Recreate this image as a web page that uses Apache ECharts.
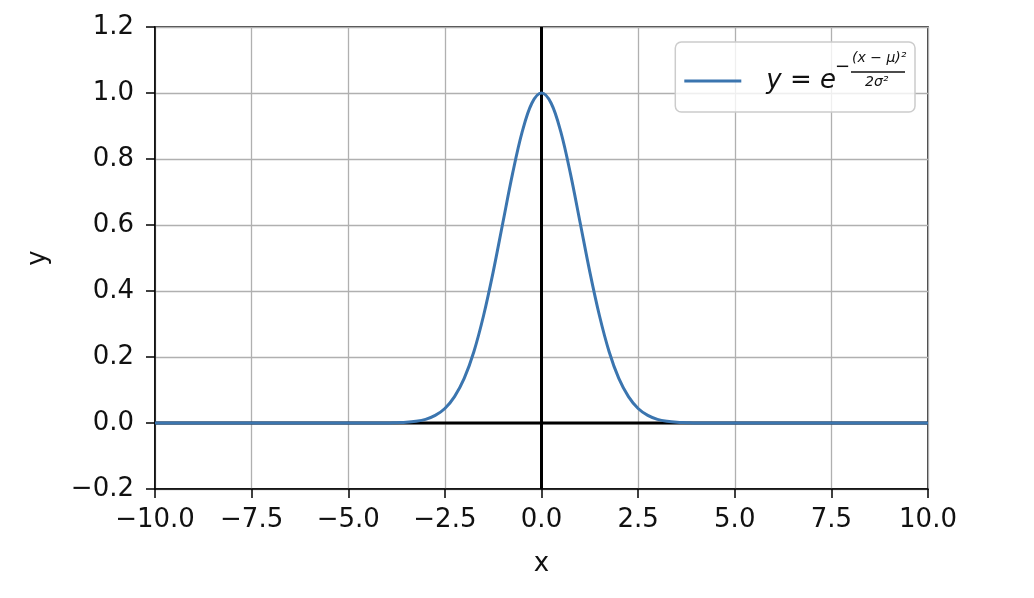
<!DOCTYPE html>
<html>
<head>
<meta charset="utf-8">
<script src="https://cdn.jsdelivr.net/npm/echarts@6/dist/echarts.min.js"></script>
<style>
  html, body { margin: 0; padding: 0; background: #fff; }
  #chart { width: 1034px; height: 598px; }
</style>
</head>
<body>
<div id="chart"></div>
<script>
// points
const xValues = [-10, -7.5, -5, -4.5, -4, -3.75, -3.5, -3.25, -3, -2.75, -2.5, -2.25, -2, -1.75, -1.5, -1.25, -1, -0.75, -0.5, -0.25,
  0, 0.25, 0.5, 0.75, 1, 1.25, 1.5, 1.75, 2, 2.25, 2.5, 2.75, 3, 3.25, 3.5, 3.75, 4, 4.5, 5, 7.5, 10];
const yValues = [0, 0, 0, 0, 0, 0.001, 0.002, 0.005, 0.011, 0.023, 0.044, 0.08, 0.135, 0.216, 0.325, 0.458, 0.607, 0.755, 0.882, 0.969,
  1.0, 0.969, 0.882, 0.755, 0.607, 0.458, 0.325, 0.216, 0.135, 0.08, 0.044, 0.023, 0.011, 0.005, 0.002, 0.001, 0, 0, 0, 0, 0];
const seriesName = "gauss";
// the black zero lines (x = 0 and y = 0)
const hLine = [[-10, 0], [10, 0]];
const vLine = [[0, -0.2], [0, 1.2]];

const fmt = v => v.toFixed(1).replace("-", "\u2212");
const font = "DejaVu Sans";

const chart = echarts.init(document.getElementById("chart"));

const zeroLine = (name, data) => ({
  name: name, type: "line", data: data, z: 1, silent: true,
  showSymbol: false, symbol: "none",
  lineStyle: { color: "#000", width: 3 },
  itemStyle: { color: "#000" }
});

const option = {
  animation: false,
  textStyle: { fontFamily: font },
  grid: {
    left: 155, right: 106, top: 27, bottom: 109,
    show: true, borderColor: "#000", borderWidth: 1.5
  },
  xAxis: {
    type: "value", min: -10, max: 10, interval: 2.5,
    name: "x", nameLocation: "middle", nameGap: 62,
    nameTextStyle: { fontSize: 26, color: "#111", fontFamily: font },
    axisLine: { show: true, onZero: false, lineStyle: { color: "#000", width: 1.5 } },
    axisTick: { show: true, inside: false, length: 9, lineStyle: { color: "#000", width: 1.5 } },
    axisLabel: { fontSize: 26, color: "#111", margin: 18, formatter: fmt, fontFamily: font },
    splitLine: { show: true, lineStyle: { color: "#b0b0b0", width: 1.3 } }
  },
  yAxis: {
    type: "value", min: -0.2, max: 1.2, interval: 0.2,
    name: "y", nameLocation: "middle", nameGap: 104, nameRotate: 90,
    nameTextStyle: { fontSize: 26, color: "#111", fontFamily: font },
    axisLine: { show: true, onZero: false, lineStyle: { color: "#000", width: 1.5 } },
    axisTick: { show: true, inside: false, length: 9, lineStyle: { color: "#000", width: 1.5 } },
    axisLabel: { fontSize: 26, color: "#111", margin: 21, formatter: fmt, fontFamily: font },
    splitLine: { show: true, lineStyle: { color: "#b0b0b0", width: 1.3 } }
  },
  legend: {
    data: [seriesName],
    right: 119, top: 42,
    padding: [26, 79, 18, 9],
    backgroundColor: "rgba(255,255,255,0.8)",
    borderColor: "#cccccc", borderWidth: 1.5, borderRadius: 6,
    icon: "rect", itemWidth: 57, itemHeight: 3,
    formatter: () => "{first|y}{rm| = }{it|e}",
    textStyle: {
      rich: {
        first: { fontSize: 26, fontStyle: "italic", fontFamily: font, color: "#111", lineHeight: 26, padding: [0, 0, 0, 20] },
        it: { fontSize: 26, fontStyle: "italic", fontFamily: font, color: "#111", lineHeight: 26 },
        rm: { fontSize: 26, fontFamily: font, color: "#111", lineHeight: 26 }
      }
    }
  },
  graphic: [
    { type: "text", z: 100, left: 835, top: 58,
      style: { text: "\u2212", fontSize: 18, fontFamily: font, fill: "#111" } },
    { type: "text", z: 100, left: 852, top: 51,
      style: { text: "(x \u2212 \u03bc)\u00b2", fontSize: 14, fontStyle: "italic", fontFamily: font, fill: "#111" } },
    { type: "line", z: 100, shape: { x1: 851, y1: 72, x2: 905, y2: 72 },
      style: { stroke: "#111", lineWidth: 1.4 } },
    { type: "text", z: 100, left: 865, top: 75,
      style: { text: "2\u03c3\u00b2", fontSize: 14, fontStyle: "italic", fontFamily: font, fill: "#111" } }
  ],
  series: [
    zeroLine("hzero", hLine),
    zeroLine("vzero", vLine),
    {
      name: seriesName, type: "line", z: 3,
      data: xValues.map((x, i) => [x, yValues[i]]),
      smooth: 0.35, showSymbol: false,
      lineStyle: { color: "#3b75af", width: 3 },
      itemStyle: { color: "#3b75af" }
    }
  ]
};

chart.setOption(option);
</script>
</body>
</html>
